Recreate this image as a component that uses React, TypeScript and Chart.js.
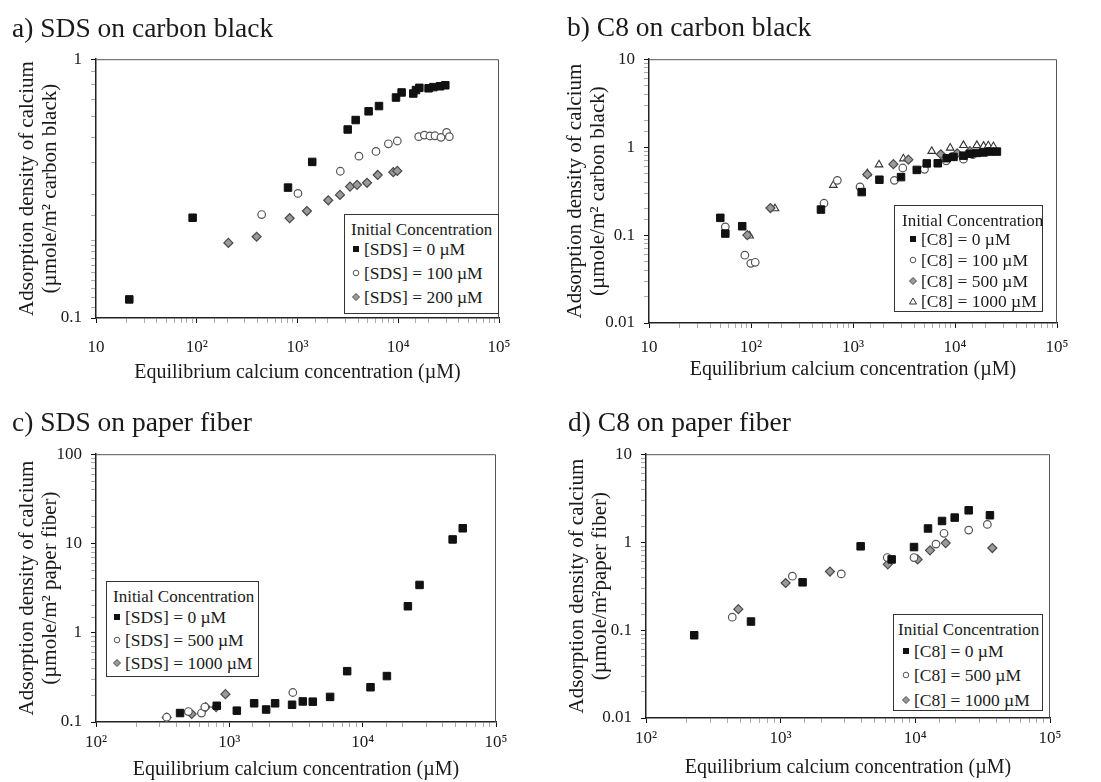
import React, { useEffect, useRef } from 'react';
import { Chart, registerables } from 'chart.js';

Chart.register(...registerables);

const FONT = '"Liberation Serif", "Times New Roman", Times, serif';
const INK = '#1a1a1a';

// ---------------- data (x = equilibrium Ca conc. µM, y = adsorption density) ----------------
// a) SDS on carbon black
const aSds0: [number, number][] = [[21.4, 0.118], [91, 0.244], [805, 0.319], [1400, 0.401], [3150, 0.535], [3780, 0.582], [5080, 0.629], [6440, 0.659], [9500, 0.711], [10800, 0.744], [14100, 0.737], [15000, 0.76], [16200, 0.775], [20000, 0.772], [22300, 0.78], [26000, 0.786], [29300, 0.793]];
const aSds100: [number, number][] = [[441, 0.251], [1010, 0.303], [2660, 0.369], [4070, 0.422], [6010, 0.44], [7980, 0.471], [9790, 0.483], [15960, 0.502], [18160, 0.509], [20650, 0.505], [23170, 0.506], [26560, 0.499], [30200, 0.521], [32140, 0.502]];
const aSds200: [number, number][] = [[206, 0.195], [393, 0.206], [836, 0.243], [1240, 0.259], [2020, 0.285], [2640, 0.299], [3320, 0.322], [3900, 0.327], [4900, 0.333], [6250, 0.357], [8930, 0.366], [9790, 0.37]];

// b) C8 on carbon black
const bC8_0: [number, number][] = [[50, 0.157], [56, 0.104], [82, 0.126], [485, 0.195], [1217, 0.308], [1815, 0.426], [2958, 0.456], [4217, 0.551], [5284, 0.653], [6776, 0.655], [8312, 0.749], [9662, 0.774], [12110, 0.8], [14090, 0.84], [16380, 0.86], [19050, 0.87], [22150, 0.89], [25760, 0.89]];
const bC8_100: [number, number][] = [[56, 0.124], [87, 0.059], [99.6, 0.0477], [110, 0.049], [520, 0.23], [702, 0.419], [1172, 0.353], [2545, 0.419], [3077, 0.579], [5018, 0.56], [8190, 0.699], [9500, 0.78], [12110, 0.73], [15000, 0.82]];
const bC8_500: [number, number][] = [[92, 0.1], [155, 0.203], [1380, 0.49], [2490, 0.64], [3490, 0.72], [7260, 0.83], [10500, 0.85], [14000, 0.9]];
const bC8_1000: [number, number][] = [[97, 0.098], [172, 0.2], [641, 0.369], [1383, 0.5], [1799, 0.631], [3118, 0.74], [5915, 0.9], [8970, 0.98], [12100, 1.05], [16380, 1.05], [19050, 1.03], [21200, 1.04], [23800, 1.02]];

// c) SDS on paper fiber
const cSds0: [number, number][] = [[427, 0.126], [805, 0.152], [1138, 0.134], [1535, 0.162], [1888, 0.138], [2205, 0.162], [2955, 0.156], [3556, 0.17], [4226, 0.169], [5700, 0.191], [7650, 0.371], [11450, 0.245], [15200, 0.327], [21830, 1.98], [26700, 3.43], [47300, 11.1], [56300, 14.8]];
const cSds500: [number, number][] = [[339, 0.113], [493, 0.131], [618, 0.126], [655, 0.147], [2993, 0.214]];
const cSds1000: [number, number][] = [[339, 0.112], [522, 0.123], [665, 0.147], [796, 0.147], [935, 0.205]];

// d) C8 on paper fiber
const dC8_0: [number, number][] = [[228, 0.0873], [602, 0.125], [1455, 0.349], [3926, 0.896], [6670, 0.636], [9775, 0.879], [12420, 1.43], [15780, 1.74], [19600, 1.9], [24900, 2.3], [35800, 2.02]];
const dC8_500: [number, number][] = [[437, 0.14], [1222, 0.41], [2818, 0.435], [6190, 0.668], [9770, 0.668], [14230, 0.95], [16330, 1.26], [24900, 1.37], [34260, 1.59]];
const dC8_1000: [number, number][] = [[485, 0.173], [1089, 0.343], [2323, 0.463], [6240, 0.559], [10400, 0.636], [12850, 0.807], [16800, 0.976], [37300, 0.857]];

// tick labels per decade
const DECADE_EXP = [-2, -1, 0, 1, 2, 3, 4, 5];
const Y_DECADE_LABELS = ['0.01', '0.1', '1', '10', '100', '1000', '10⁴', '10⁵'];
const X_DECADE_LABELS = ['10⁻²', '10⁻¹', '1', '10', '10²', '10³', '10⁴', '10⁵'];

const LEGEND_TITLE = 'Initial Concentration';
const X_TITLE = 'Equilibrium calcium concentration (µM)';

function decadeLabel(v: number, labels: string[]): string {
  const e = Math.log10(v);
  const r = Math.round(e);
  if (Math.abs(e - r) > 1e-6) return '';
  const i = DECADE_EXP.indexOf(r);
  return i >= 0 ? labels[i] : '';
}
function isDecade(v: number): boolean {
  const e = Math.log10(v);
  return Math.abs(e - Math.round(e)) < 1e-6;
}

type Kind = 'square' | 'circle' | 'diamond' | 'triangle';

const KIND_STYLE: Record<Kind, any> = {
  square: { pointStyle: 'rect', pointRadius: 5.3, backgroundColor: '#111', borderColor: '#111', borderWidth: 1 },
  circle: { pointStyle: 'circle', pointRadius: 3.8, backgroundColor: '#fff', borderColor: '#555', borderWidth: 1.2 },
  diamond: { pointStyle: 'rectRot', pointRadius: 4.5, backgroundColor: '#9a9a9a', borderColor: '#4a4a4a', borderWidth: 1.2 },
  triangle: { pointStyle: 'triangle', pointRadius: 4.4, backgroundColor: '#fff', borderColor: '#333', borderWidth: 1.1 },
};

interface Series { label: string; data: [number, number][]; kind: Kind }
interface LegendDef { box: [number, number, number, number]; titleLeft: number; titleY: number; markerX: number; textX: number; rowsY: number[] }
interface PanelDef {
  title: string; titleLeft: number; titleTop: number;
  canvas: [number, number, number, number];
  area: [number, number, number, number];
  x: [number, number]; y: [number, number];
  yTitle: string[]; yTitlePad: number; xTitlePad: number; xTickPad: number;
  series: Series[];
  legend: LegendDef;
}

const PANELS: PanelDef[] = [
  {
    title: 'a) SDS on carbon black', titleLeft: 12, titleTop: 14,
    canvas: [0, 40, 550, 350], area: [96, 13, 499, 278],
    x: [10, 100000], y: [0.1, 1],
    yTitle: ['Adsorption density of calcium', '(µmole/m² carbon black)'], yTitlePad: 15.5, xTitlePad: 5, xTickPad: 14,
    series: [
      { label: '[SDS] = 0 µM', data: aSds0, kind: 'square' },
      { label: '[SDS] = 100 µM', data: aSds100, kind: 'circle' },
      { label: '[SDS] = 200 µM', data: aSds200, kind: 'diamond' },
    ],
    legend: { box: [344, 214, 499, 314], titleLeft: 351, titleY: 230, markerX: 356, textX: 364, rowsY: [249, 273, 297] },
  },
  {
    title: 'b) C8 on carbon black', titleLeft: 567, titleTop: 13,
    canvas: [550, 40, 551, 350], area: [99, 13, 507, 283],
    x: [10, 100000], y: [0.01, 10],
    yTitle: ['Adsorption density of calcium', '(µmole/m² carbon black)'], yTitlePad: 13.5, xTitlePad: 8, xTickPad: 9,
    series: [
      { label: '[C8] = 0 µM', data: bC8_0, kind: 'square' },
      { label: '[C8] = 100 µM', data: bC8_100, kind: 'circle' },
      { label: '[C8] = 500 µM', data: bC8_500, kind: 'diamond' },
      { label: '[C8] = 1000 µM', data: bC8_1000, kind: 'triangle' },
    ],
    legend: { box: [894, 205, 1043, 312], titleLeft: 902, titleY: 221, markerX: 913, textX: 921, rowsY: [239, 260, 281, 301] },
  },
  {
    title: 'c) SDS on paper fiber', titleLeft: 12, titleTop: 408,
    canvas: [0, 435, 550, 347], area: [96, 14, 496, 287],
    x: [100, 100000], y: [0.1, 100],
    yTitle: ['Adsorption density of calcium', '(µmole/m² paper fiber)'], yTitlePad: 15.5, xTitlePad: 0, xTickPad: 5,
    series: [
      { label: '[SDS] = 0 µM', data: cSds0, kind: 'square' },
      { label: '[SDS] = 500 µM', data: cSds500, kind: 'circle' },
      { label: '[SDS] = 1000 µM', data: cSds1000, kind: 'diamond' },
    ],
    legend: { box: [106, 581, 259, 677], titleLeft: 113, titleY: 597, markerX: 117, textX: 125, rowsY: [617, 640, 663] },
  },
  {
    title: 'd) C8 on paper fiber', titleLeft: 568, titleTop: 408,
    canvas: [550, 435, 551, 347], area: [96, 14, 500, 283],
    x: [100, 100000], y: [0.01, 10],
    yTitle: ['Adsorption density of calcium', '(µmole/m²paper fiber)'], yTitlePad: 15.5, xTitlePad: 2, xTickPad: 5,
    series: [
      { label: '[C8] = 0 µM', data: dC8_0, kind: 'square' },
      { label: '[C8] = 500 µM', data: dC8_500, kind: 'circle' },
      { label: '[C8] = 1000 µM', data: dC8_1000, kind: 'diamond' },
    ],
    legend: { box: [893, 614, 1043, 711], titleLeft: 898, titleY: 630, markerX: 906, textX: 914, rowsY: [651, 675, 700] },
  },
];

const framePlugin = {
  id: 'frameTopRight',
  beforeDatasetsDraw(chart: any) {
    const { ctx, chartArea } = chart;
    const { left, top, right, bottom } = chartArea;
    ctx.save();
    ctx.strokeStyle = '#555';
    ctx.lineWidth = 1;
    ctx.beginPath();
    ctx.moveTo(left, top + 0.5);
    ctx.lineTo(right - 0.5, top + 0.5);
    ctx.lineTo(right - 0.5, bottom);
    ctx.stroke();
    ctx.restore();
  },
};

function Marker({ kind }: { kind: Kind }) {
  let shape: any = null;
  if (kind === 'square') shape = <rect x={2} y={2} width={6} height={6} fill="#111" />;
  if (kind === 'circle') shape = <circle cx={5} cy={5} r={2.8} fill="#fff" stroke="#555" strokeWidth={1} />;
  if (kind === 'diamond') shape = <polygon points="5,1.5 8.5,5 5,8.5 1.5,5" fill="#9a9a9a" stroke="#4a4a4a" strokeWidth={1} />;
  if (kind === 'triangle') shape = <polygon points="5,2 8.5,8 1.5,8" fill="#fff" stroke="#333" strokeWidth={1} />;
  return <svg width={10} height={10} style={{ display: 'block' }}>{shape}</svg>;
}

function Legend({ def, series }: { def: LegendDef; series: Series[] }) {
  const [l, t, r, b] = def.box;
  const text = (y: number, left: number, s: string, key: string, size: number) => (
    <div key={key} style={{ position: 'absolute', left, top: y - 10, height: 20, lineHeight: '20px', fontFamily: FONT, fontSize: size, color: INK, whiteSpace: 'nowrap' }}>{s}</div>
  );
  return (
    <>
      <div style={{ position: 'absolute', left: l, top: t, width: r - l, height: b - t, border: '1px solid #333', background: '#fff', boxSizing: 'border-box' }} />
      {text(def.titleY, def.titleLeft, LEGEND_TITLE, 'title', 17)}
      {series.map((s, i) => (
        <React.Fragment key={i}>
          <div style={{ position: 'absolute', left: def.markerX - 5, top: def.rowsY[i] - 5 }}><Marker kind={s.kind} /></div>
          {text(def.rowsY[i], def.textX, s.label, 'row' + i, 17.5)}
        </React.Fragment>
      ))}
    </>
  );
}

function Panel({ def }: { def: PanelDef }) {
  const ref = useRef<HTMLCanvasElement | null>(null);
  const [cl, ct, cw, ch] = def.canvas;
  const [al, at, ar, ab] = def.area;

  useEffect(() => {
    if (!ref.current) return;
    const tickColor = (c: any) => (c.tick && isDecade(c.tick.value) ? '#111' : '#aaa');
    const chart = new Chart(ref.current, {
      type: 'scatter',
      data: {
        datasets: def.series.map((s) => ({
          label: s.label,
          data: s.data.map(([x, y]) => ({ x, y })),
          showLine: false,
          ...KIND_STYLE[s.kind],
          pointHoverRadius: KIND_STYLE[s.kind].pointRadius,
        })),
      },
      options: {
        animation: false,
        responsive: false,
        events: [],
        layout: { padding: { left: 0, top: at, right: cw - ar, bottom: 0 } },
        plugins: { legend: { display: false }, tooltip: { enabled: false } },
        scales: {
          x: {
            type: 'logarithmic',
            position: 'bottom',
            min: def.x[0],
            max: def.x[1],
            afterFit: (s: any) => { s.height = ch - ab; },
            ticks: {
              autoSkip: false, maxRotation: 0, minRotation: 0, padding: def.xTickPad,
              font: { family: FONT, size: 17 }, color: INK,
              callback: (v: any) => decadeLabel(Number(v), X_DECADE_LABELS),
            },
            grid: { display: true, drawOnChartArea: false, drawTicks: true, tickLength: 5, tickColor },
            border: { display: true, color: '#222', width: 1.5 },
            title: {
              display: true, text: X_TITLE, color: INK,
              font: { family: FONT, size: 20, lineHeight: 1.2 },
              padding: { top: 0, bottom: def.xTitlePad },
            },
          },
          y: {
            type: 'logarithmic',
            position: 'left',
            min: def.y[0],
            max: def.y[1],
            afterFit: (s: any) => { s.width = al; },
            ticks: {
              autoSkip: false, padding: 9,
              font: { family: FONT, size: 17 }, color: INK,
              callback: (v: any) => decadeLabel(Number(v), Y_DECADE_LABELS),
            },
            grid: { display: true, drawOnChartArea: false, drawTicks: true, tickLength: 5, tickColor },
            border: { display: true, color: '#222', width: 1.5 },
            title: {
              display: true, text: def.yTitle, color: INK,
              font: { family: FONT, size: 21, lineHeight: 1.1 },
              padding: { top: def.yTitlePad, bottom: 0 },
            },
          },
        },
      } as any,
      plugins: [framePlugin],
    });
    return () => chart.destroy();
  }, []);

  return (
    <>
      <canvas ref={ref} width={cw} height={ch} style={{ position: 'absolute', left: cl, top: ct, width: cw, height: ch }} />
      <div style={{ position: 'absolute', left: def.titleLeft, top: def.titleTop, fontFamily: FONT, fontSize: 27.5, lineHeight: 1, color: INK, whiteSpace: 'nowrap' }}>{def.title}</div>
      <Legend def={def.legend} series={def.series} />
    </>
  );
}

export default function App() {
  return (
    <div style={{ position: 'absolute', left: 0, top: 0, width: 1101, height: 782, background: '#fff', overflow: 'hidden' }}>
      {PANELS.map((p, i) => <Panel key={i} def={p} />)}
    </div>
  );
}
